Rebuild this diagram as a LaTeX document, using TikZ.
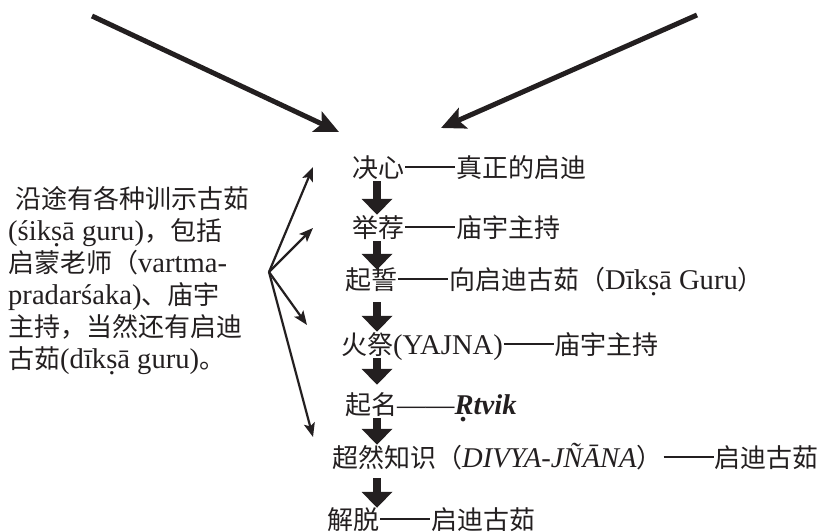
\documentclass[tikz,border=0pt]{standalone}
\usepackage{fontspec}
\setmainfont{Liberation Serif}[Scale=1.1]
\newfontfamily\cjk{Noto Sans CJK SC}
\usetikzlibrary{arrows.meta,calc}
\definecolor{ink}{RGB}{35,31,32}
\newcommand\C[1]{{\cjk #1}}
\newcommand\dd{\hspace{0.04em}\rule[0.36em]{1.92em}{0.055em}\hspace{0.04em}}
\newcommand\db[1]{\oalign{#1\crcr\hidewidth\vbox to.2ex{\hbox{.}\vss}\hidewidth}}
\begin{document}
\begin{tikzpicture}[x=1pt,y=-1pt,
  every node/.style={inner sep=0pt, text=ink, font=\fontsize{26}{32}\selectfont},
  stage/.style={anchor=west, text height=22pt, text depth=4pt},
  bigarrow/.style={ink, line width=8pt, -{Triangle[length=16pt,width=30pt]}},
  toparrow/.style={ink, line width=5pt, -{Stealth[length=24pt,width=22pt,inset=5pt]}},
  fanarrow/.style={ink, line width=2.2pt, -{Stealth[length=14pt,width=11pt,inset=3pt]}}]
\useasboundingbox (0,0) rectangle (837,532);
% main column
\node[stage] (n1) at (352,168) {\C{决心\dd 真正的启迪}};
\node[stage] (n2) at (352,228) {\C{举荐\dd 庙宇主持}};
\node[stage] (n3) at (345,280) {\C{起誓\dd 向启迪古茹（}Dīk\db{s}ā Guru\C{）}};
\node[stage] (n4) at (341,345) {\C{火祭}(YAJNA)\C{\dd 庙宇主持}};
\node[stage] (n5) at (345,405) {\C{起名}——\textbf{\textit{\db{R}tvik}}};
\node[stage] (n6) at (332,458) {\C{超然知识（}\textit{DIVYA-JÑĀNA}\C{）\dd 启迪古茹}};
\node[stage] (n7) at (327,520) {\C{解脱\dd 启迪古茹}};
\coordinate (col) at (377,0);
\draw[bigarrow] (n1.south -| col) -- (n2.north -| col);
\draw[bigarrow, shorten >=-3pt] (n2.south -| col) -- (n3.north -| col);
\draw[bigarrow, shorten <=9pt] (n3.south -| col) -- (n4.north -| col);
\draw[bigarrow, shorten >=7pt] (n4.south -| col) -- (n5.north -| col);
\draw[bigarrow] (n5.south -| col) -- (n6.north -| col);
\draw[bigarrow, shorten <=7pt, shorten >=-1pt] (n6.south -| col) -- (n7.north -| col);
% left text
\node[anchor=north west, align=left] (lt) at (8,186) {\hspace{7pt}\C{沿途有各种训示古茹}\\
(śik\db{s}ā guru)\C{，包括}\\
\C{启蒙老师（}vartma-\\
pradarśaka)\C{、庙宇}\\
\C{主持，当然还有启迪}\\
\C{古茹}(dīk\db{s}ā guru)\C{。}};
\coordinate (fan) at (269,272);
\draw[fanarrow] (fan) -- ($(n1.west)+(-39,-1)$);
\draw[fanarrow] (fan) -- ($(n2.west)+(-39,0)$);
\draw[fanarrow] (fan) -- ($(n4.west)+(-34,-20)$);
\draw[fanarrow] (fan) -- ($(n6.west)+(-19,-21)$);
% top arrows
\coordinate (tl1) at (92,16);
\coordinate (tl2) at (339,132);
\coordinate (tr1) at (697,15);
\coordinate (tr2) at (441,128);
\draw[toparrow] (tl1) -- (tl2);
\draw[toparrow] (tr1) -- (tr2);
\end{tikzpicture}
\end{document}
